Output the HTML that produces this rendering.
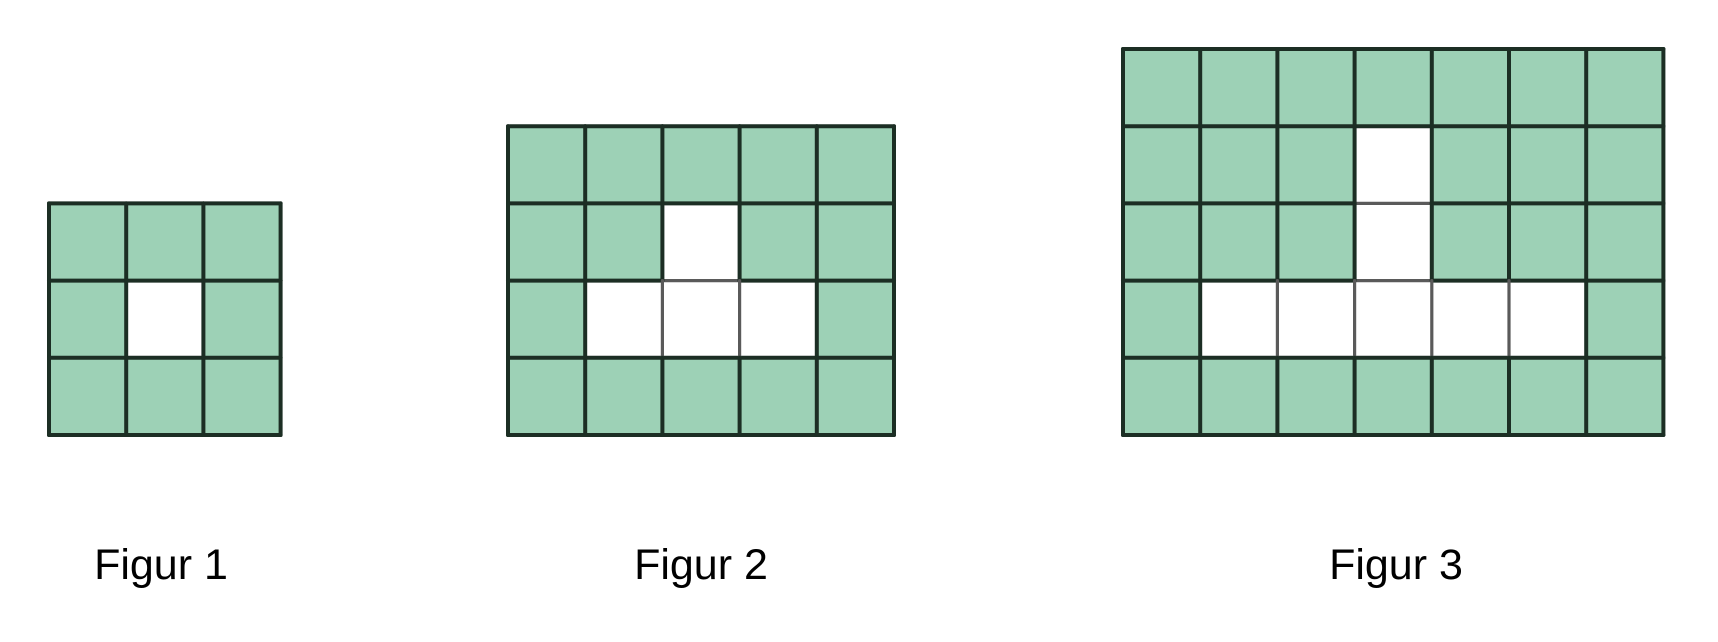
<!DOCTYPE html>
<html><head><meta charset="utf-8"><style>
html,body{margin:0;padding:0;background:#fff;width:1718px;height:642px;overflow:hidden}
svg{display:block}
</style></head><body>
<svg id="s" width="1718" height="642"></svg>
<script>
const figLabels = ["Figur 1", "Figur 2", "Figur 3"];
const figCols = [3, 5, 7];
const figRows = [3, 4, 5];
const figHoles = [
  [[1,1]],
  [[1,2],[2,1],[2,2],[2,3]],
  [[1,3],[2,3],[3,1],[3,2],[3,3],[3,4],[3,5]]
];
const origins = [[49,203],[508,126],[1123,50]];
const labelX = [161, 701, 1396];
const cell = 77.2, bottom = 435;
const NS = "http://www.w3.org/2000/svg";
const svg = document.getElementById("s");
function mk(tag, attrs){const e=document.createElementNS(NS,tag);for(const k in attrs)e.setAttribute(k,attrs[k]);return e;}
figLabels.forEach((lab,f)=>{
  const g = mk("g",{});
  
  
  const x0 = origins[f][0], C = figCols[f], R = figRows[f];
  const cs = cell, y0 = bottom - R*cs;
  const isHole=(r,c)=>figHoles[f].some(h=>h[0]===r&&h[1]===c);
  for(let r=0;r<R;r++)for(let c=0;c<C;c++){
    const rect = mk("rect",{x:x0+c*cs,y:y0+r*cs,width:cs,height:cs,fill:isHole(r,c)?"#ffffff":"#9dd1b6"});
    
    
    g.appendChild(rect);
  }
  for(let r=0;r<=R;r++)for(let c=0;c<C;c++){
    const inner = r>0&&r<R&&isHole(r-1,c)&&isHole(r,c);
    g.appendChild(mk("line",{x1:x0+c*cs,x2:x0+(c+1)*cs,y1:y0+r*cs,y2:y0+r*cs,stroke:inner?"#5a5a5a":"#1c2e24","stroke-width":inner?3.2:4,"stroke-linecap":"round"}));
  }
  for(let c=0;c<=C;c++)for(let r=0;r<R;r++){
    const inner = c>0&&c<C&&isHole(r,c-1)&&isHole(r,c);
    g.appendChild(mk("line",{x1:x0+c*cs,x2:x0+c*cs,y1:y0+r*cs,y2:y0+(r+1)*cs,stroke:inner?"#5a5a5a":"#1c2e24","stroke-width":inner?3.2:4,"stroke-linecap":"round"}));
  }
  const t = mk("text",{x:labelX[f],y:579,"text-anchor":"middle","font-family":"Liberation Sans, DejaVu Sans, sans-serif","font-size":43,fill:"#000"});
  t.textContent = lab;
  
  
  g.appendChild(t);
  svg.appendChild(g);
});
</script>
</body></html>
